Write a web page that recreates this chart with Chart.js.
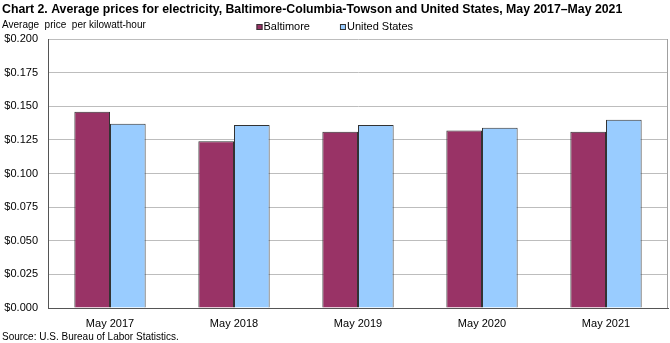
<!DOCTYPE html>
<html>
<head>
<meta charset="utf-8">
<script src="https://cdn.jsdelivr.net/npm/chart.js@4"></script>
<style>
  html, body { margin: 0; padding: 0; background: #fff; }
  #wrap { position: relative; width: 670px; height: 343px; }
</style>
</head>
<body>
<div id="wrap"><canvas id="chart"></canvas></div>
<script>
// Data
var categories = ["May 2017", "May 2018", "May 2019", "May 2020", "May 2021"];
var baltimore = [0.146, 0.124, 0.131, 0.132, 0.131];
var unitedStates = [0.137, 0.136, 0.136, 0.134, 0.140];
var seriesNames = ["Baltimore", "United States"];
var seriesColors = ["#993366", "#99ccff"];

var FONT = "Arial, 'Liberation Sans', sans-serif";

// Texts and legend drawn round the plot
var decorations = {
  id: "decorations",
  afterDraw: function (chart) {
    var ctx = chart.ctx;
    var area = chart.chartArea;
    ctx.save();
    // plot frame, right side
    ctx.strokeStyle = "#a0a0a0";
    ctx.lineWidth = 1;
    ctx.beginPath();
    ctx.moveTo(Math.round(area.right) - 0.5, area.top);
    ctx.lineTo(Math.round(area.right) - 0.5, area.bottom);
    ctx.stroke();

    ctx.fillStyle = "#000";
    ctx.textBaseline = "alphabetic";
    ctx.textAlign = "left";
    ctx.font = "bold 12.3px " + FONT;
    ctx.fillText("Chart 2. Average prices for electricity, Baltimore-Columbia-Towson and United States, May 2017\u2013May 2021", 2, 13);
    ctx.font = "10px " + FONT;
    ctx.fillText("Average  price  per kilowatt-hour", 2, 28);
    ctx.fillText("Source: U.S. Bureau of Labor Statistics.", 2, 340);

    // legend
    ctx.font = "11px " + FONT;
    var x = 256.5;
    chart.data.datasets.forEach(function (ds) {
      ctx.fillStyle = ds.backgroundColor;
      ctx.fillRect(x, 24, 6, 6);
      ctx.strokeStyle = "#333";
      ctx.strokeRect(x + 0.5, 24.5, 5, 5);
      ctx.fillStyle = "#000";
      ctx.fillText(ds.label, x + 7, 30);
      x += 7 + ctx.measureText(ds.label).width + 30;
    });
    ctx.restore();
  }
};

var ctx = document.getElementById("chart").getContext("2d");
var chart = new Chart(ctx, {
  type: "bar",
  data: {
    labels: categories,
    datasets: [
      {
        label: seriesNames[0],
        data: baltimore,
        backgroundColor: seriesColors[0],
        borderColor: "#333333",
        borderWidth: 1,
      },
      {
        label: seriesNames[1],
        data: unitedStates,
        backgroundColor: seriesColors[1],
        borderColor: "#333333",
        borderWidth: 1,
      },
    ],
  },
  options: {
    responsive: true,
    maintainAspectRatio: false,
    animation: false,
    devicePixelRatio: 1,
    layout: { padding: { top: 39, right: 2, left: 0, bottom: 0 } },
    datasets: { bar: { categoryPercentage: 0.575, barPercentage: 1.0 } },
    plugins: {
      legend: { display: false },
      title: { display: false },
      tooltip: { enabled: false },
    },
    scales: {
      x: {
        grid: { display: false, drawTicks: false },
        border: { color: "#555", width: 1 },
        ticks: { color: "#000", font: { family: FONT, size: 11 }, padding: 9, maxRotation: 0 },
        afterFit: function (scale) { scale.height = 35; },
      },
      y: {
        min: 0,
        max: 0.2,
        grid: { color: "#bdbdbd", drawTicks: false },
        border: { color: "#555", width: 1 },
        ticks: {
          stepSize: 0.025,
          color: "#000",
          padding: 10,
          font: { family: FONT, size: 11 },
          callback: function (v) { return "$" + Number(v).toFixed(3); },
        },
        afterFit: function (scale) { scale.width = 48; },
      },
    },
  },
  plugins: [decorations],
});
</script>
</body>
</html>
